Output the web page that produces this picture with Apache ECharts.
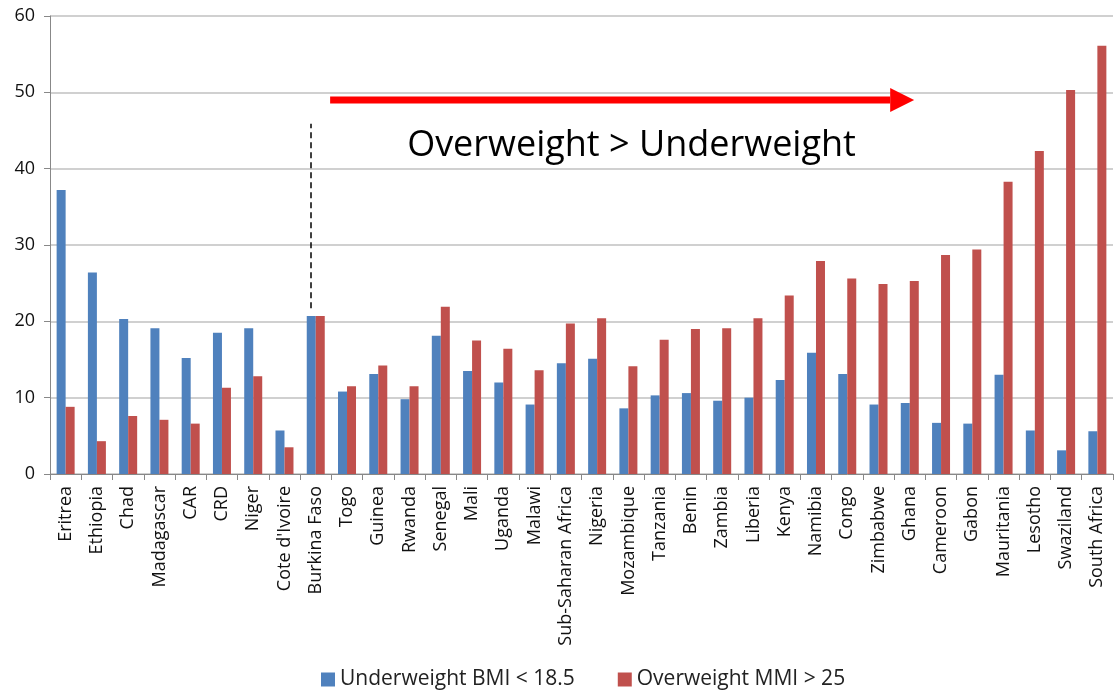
<!DOCTYPE html>
<html>
<head>
    <meta charset="UTF-8">
    <title>Underweight vs Overweight</title>
    <style>
        html, body { margin: 0; padding: 0; background: #fff; }
    </style>
</head>
<body>
    <div id="container" style="width: 1115px;height: 698px;"></div>
    <script src="https://cdn.jsdelivr.net/npm/echarts@6/dist/echarts.min.js"></script>
    <script type="text/javascript">
        var countries = ['Eritrea', 'Ethiopia', 'Chad', 'Madagascar', 'CAR', 'CRD', 'Niger', "Cote d'Ivoire",
            'Burkina Faso', 'Togo', 'Guinea', 'Rwanda', 'Senegal', 'Mali', 'Uganda', 'Malawi',
            'Sub-Saharan Africa', 'Nigeria', 'Mozambique', 'Tanzania', 'Benin', 'Zambia', 'Liberia',
            'Kenya', 'Namibia', 'Congo', 'Zimbabwe', 'Ghana', 'Cameroon', 'Gabon', 'Mauritania',
            'Lesotho', 'Swaziland', 'South Africa'];
        var underweight = [37.2, 26.4, 20.3, 19.1, 15.2, 18.5, 19.1, 5.7,
            20.7, 10.8, 13.1, 9.8, 18.1, 13.5, 12.0, 9.1,
            14.5, 15.1, 8.6, 10.3, 10.6, 9.6, 10.0,
            12.3, 15.9, 13.1, 9.1, 9.3, 6.7, 6.6, 13.0,
            5.7, 3.1, 5.6];
        var overweight = [8.8, 4.3, 7.6, 7.1, 6.6, 11.3, 12.8, 3.5,
            20.7, 11.5, 14.2, 11.5, 21.9, 17.5, 16.4, 13.6,
            19.7, 20.4, 14.1, 17.6, 19.0, 19.1, 20.4,
            23.4, 27.9, 25.6, 24.9, 25.3, 28.7, 29.4, 38.3,
            42.3, 50.3, 56.1];
        var yTicks = [0, 10, 20, 30, 40, 50, 60];
        var seriesNames = ['Underweight BMI < 18.5', 'Overweight MMI > 25'];

        // annotation anchors (in data units)
        var dividerCountry = 'Burkina Faso';
        var dividerRange = [21.7, 45.9];
        var arrowValue = 49;
        var labelValue = 43;

        var font = '"Open Sans", "Noto Sans", sans-serif';
        var myChart = echarts.init(document.getElementById('container'));
        var option = {
            animation: false,
            textStyle: { fontFamily: font },
            grid: { left: 50, right: 2, top: 16, bottom: 224 },
            legend: {
                bottom: 3,
                left: 316,
                itemWidth: 14,
                itemHeight: 14,
                itemGap: 43,
                icon: 'rect',
                textStyle: { fontSize: 21, color: '#222', fontFamily: font },
                data: seriesNames
            },
            xAxis: {
                type: 'category',
                data: countries,
                axisLine: { lineStyle: { color: '#888', width: 1 } },
                axisTick: { show: true, length: 6, interval: 0, lineStyle: { color: '#888' } },
                axisLabel: {
                    interval: 0,
                    rotate: 90,
                    margin: 12,
                    fontSize: 18,
                    color: '#111',
                    fontFamily: font
                }
            },
            yAxis: {
                type: 'value',
                min: 0,
                max: yTicks[yTicks.length - 1],
                interval: 10,
                axisLine: { show: true, lineStyle: { color: '#888' } },
                axisTick: { show: true, length: 6, lineStyle: { color: '#888' } },
                axisLabel: { fontSize: 18, color: '#111', margin: 15, fontFamily: font },
                splitLine: { lineStyle: { color: '#c0c0c0', width: 1.5 } }
            },
            series: [{
                name: seriesNames[0],
                type: 'bar',
                data: underweight,
                barWidth: 9,
                barGap: '0%',
                itemStyle: { color: '#4F81BD' },
                markLine: {
                    silent: true,
                    symbol: 'none',
                    label: { show: false },
                    lineStyle: { color: '#000', type: [6, 4], width: 1.5 },
                    data: [[
                        { coord: [dividerCountry, dividerRange[0]] },
                        { coord: [dividerCountry, dividerRange[1]] }
                    ]]
                }
            }, {
                name: seriesNames[1],
                type: 'bar',
                data: overweight,
                barWidth: 9,
                barGap: '0%',
                itemStyle: { color: '#C0504D' }
            }]
        };
        myChart.setOption(option);

        // arrow + caption placed through the chart's own scales
        var px = function (i, v) { return myChart.convertToPixel({ gridIndex: 0 }, [i, v]); };
        var a8 = px(8, arrowValue), a9 = px(9, arrowValue);
        var step = a9[0] - a8[0];
        var startX = a8[0] + step * 0.46;
        var tipX = px(27, arrowValue)[0] + step * 0.14;
        var ay = a8[1];
        var headW = 24, headH = 24, bodyH = 7;
        var labelPos = px(18, labelValue);
        myChart.setOption({
            graphic: [{
                type: 'rect',
                shape: { x: startX, y: ay - bodyH / 2, width: tipX - headW - startX, height: bodyH },
                style: { fill: '#FF0000' }
            }, {
                type: 'polygon',
                shape: { points: [[tipX - headW, ay - headH / 2], [tipX, ay], [tipX - headW, ay + headH / 2]] },
                style: { fill: '#FF0000' }
            }, {
                type: 'text',
                x: labelPos[0] + step * 0.1,
                y: labelPos[1],
                style: {
                    text: 'Overweight > Underweight',
                    fontSize: 36,
                    fontFamily: font,
                    fill: '#000',
                    align: 'center',
                    verticalAlign: 'middle'
                }
            }]
        });
    </script>
</body>
</html>
